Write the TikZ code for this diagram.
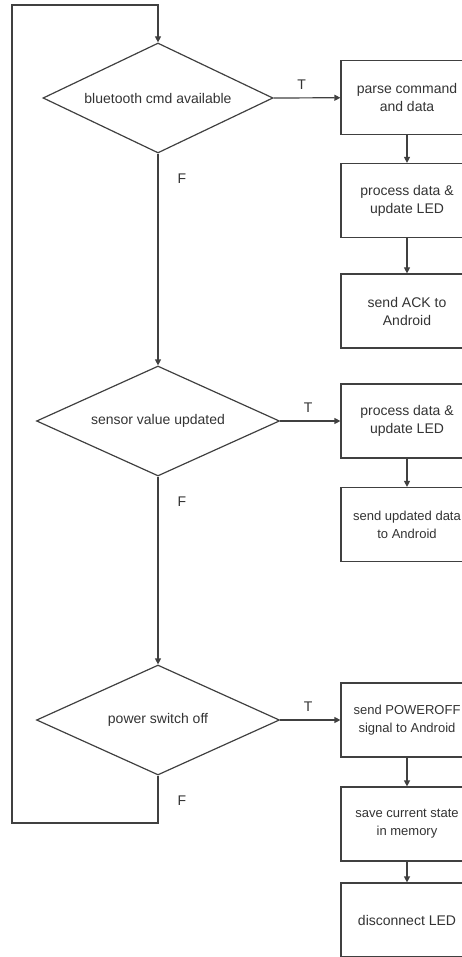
\documentclass[tikz,border=0pt]{standalone}
\usepackage{fontspec}
\setmainfont{Liberation Sans}
\usetikzlibrary{shapes.geometric,arrows.meta}

\begin{document}
\begin{tikzpicture}[>={Triangle[length=6pt,width=6pt]}, x=1pt, y=-1pt,
    every node/.style={font=\fontsize{14}{18}\selectfont, text=black!80},
    flowline/.style={draw=black!75, line width=1.2pt},
    decision/.style={flowline, diamond, shape aspect=2, inner sep=0pt, minimum height=110pt},
    action/.style={flowline, rectangle, align=center, inner sep=0pt,
      minimum width=132pt, minimum height=74pt},
    tight/.style={font=\fontsize{13}{18}\selectfont},
    tlabel/.style={xshift=28pt, yshift=13pt},
    flabel/.style={xshift=24pt, yshift=-25pt}]
  \path[use as bounding box, clip] (0,0) rectangle (462,957);
  % Decisions on the main line
  \node[decision, minimum width=230pt] (bt) at (158,98) {bluetooth cmd available};
  \node[decision, minimum width=243pt] (sensor) at (158,421) {sensor value updated};
  \node[decision, minimum width=243pt] (power) at (158,720) {power switch off};
  % Actions on the right (the page edge cuts them off)
  \node[action] (parse) at (407,97.5) {parse command\\and data};
  \node[action] (procA) at (407,200.5) {process data \&\\update LED};
  \node[action] (ack) at (407,311) {send ACK to\\Android};
  \node[action] (procB) at (407,421) {process data \&\\update LED};
  \node[action, tight] (sendB) at (407,524.5) {send updated data\\to Android};
  \node[action, tight] (poweroff) at (407,720) {send POWEROFF\\signal to Android};
  \node[action, tight] (save) at (407,824) {save current state\\in memory};
  \node[action] (disc) at (407,920) {disconnect LED};
  % True branches
  \draw[flowline, ->] (bt.east) node[tlabel] {T} -- (parse);
  \draw[flowline, ->] (sensor.east) node[tlabel] {T} -- (procB);
  \draw[flowline, ->] (power.east) node[tlabel] {T} -- (poweroff);
  \foreach \a/\b in {parse/procA, procA/ack, procB/sendB, poweroff/save, save/disc}
    \draw[flowline, ->] (\a) -- (\b);
  % False branches and the loop back to the top
  \draw[flowline, ->] (bt.south) node[flabel] {F} -- (sensor.north);
  \draw[flowline, ->] (sensor.south) node[flabel] {F} -- (power.north);
  \coordinate (loopbot) at (12,823);
  \coordinate (looptop) at (12,5);
  \draw[flowline, ->] (power.south) node[flabel] {F} -- (power.south |- loopbot)
    -- (loopbot) -- (looptop) -- (looptop -| bt.north) -- (bt.north);
\end{tikzpicture}
\end{document}
